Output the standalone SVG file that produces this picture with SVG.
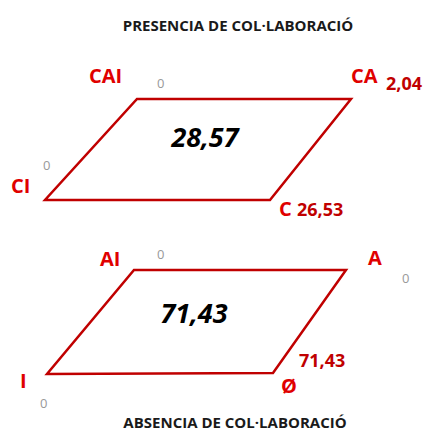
<svg xmlns="http://www.w3.org/2000/svg" width="427" height="433" viewBox="0 0 427 433">
<style>
.title{font-family:"Open Sans","Liberation Sans",sans-serif;font-weight:bold;font-size:15px;fill:#1a1a1a}
.lbl{font-family:"Open Sans","Liberation Sans",sans-serif;font-weight:bold;font-size:20px;fill:#e00000}
.val{font-family:"Open Sans","Liberation Sans",sans-serif;font-weight:bold;font-size:18px;fill:#c00000}
.zero{font-family:"Open Sans","Liberation Sans",sans-serif;font-size:13px;fill:#999999}
.big{font-family:"Open Sans","Liberation Sans",sans-serif;font-weight:bold;font-style:italic;font-size:27px;fill:#000}
.para{fill:none;stroke:#c00000;stroke-width:2.5;stroke-linejoin:miter}
</style>
<rect width="427" height="433" fill="#fff"/>
<text class="title" x="238" y="31" text-anchor="middle">PRESENCIA DE COL·LABORACIÓ</text>
<g id="connectors">
<polygon id="top-shape" class="para" points="137,99 351,99 270,200 45,200"/>
<polygon id="bottom-shape" class="para" points="134,270 346,270 273,373 47,374"/>
</g>
<g id="CAI"><text class="lbl" x="89" y="83">CAI</text><text class="zero" x="157" y="88">0</text></g>
<g id="CA"><text class="lbl" x="351" y="83">CA</text><text class="val" x="386" y="90">2,04</text></g>
<g id="center-top"><text class="big" x="205" y="147" text-anchor="middle">28,57</text></g>
<g id="CI"><text class="lbl" x="11" y="193">CI</text><text class="zero" x="43" y="170">0</text></g>
<g id="C"><text class="lbl" x="279" y="216">C</text><text class="val" x="297" y="216">26,53</text></g>
<g id="AI"><text class="lbl" x="100" y="266">AI</text><text class="zero" x="157" y="259">0</text></g>
<g id="A"><text class="lbl" x="368" y="265">A</text><text class="zero" x="402" y="283">0</text></g>
<g id="center-bottom"><text class="big" x="194" y="323" text-anchor="middle">71,43</text></g>
<g id="I"><text class="lbl" x="20" y="388">I</text><text class="zero" x="40" y="408">0</text></g>
<g id="O"><text class="lbl" x="281" y="393">Ø</text><text class="val" x="299" y="367">71,43</text></g>
<text class="title" x="235" y="428" text-anchor="middle">ABSENCIA DE COL·LABORACIÓ</text>
</svg>
